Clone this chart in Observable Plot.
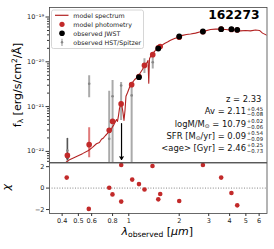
<!DOCTYPE html>
<html><head><meta charset="utf-8">
<script src="https://cdn.jsdelivr.net/npm/d3@7"></script>
<script src="https://cdn.jsdelivr.net/npm/@observablehq/plot@0.6"></script>
<style>
body{margin:0;background:#fff;font-family:"DejaVu Sans",sans-serif;}
#chart{position:relative;width:274px;height:249px;}
#chart svg{display:block;}
</style></head><body><div id="chart"></div>
<script>
// ---- model spectrum (wavelength in micron, log10 f_lambda) ----
const specLam = [0.413,0.4365,0.4805,0.529,0.5745,0.607,0.641,0.668,0.687,0.706,0.726,0.746,0.762,0.777,0.794,0.810,0.827,0.8445,0.856,0.868,0.880,0.898,0.911,0.923,0.936,0.949,0.962,0.982,1.003,1.024,1.052,1.082,1.112,1.143,1.175,1.207,1.232,1.258,1.284,1.302,1.316,1.329,1.357,1.385,1.424,1.464,1.504,1.567,1.634,1.702,1.774,1.875,1.980,2.093,2.211,2.336,2.502,2.680,2.871,3.075,3.293,3.528,3.779,4.048,4.335,4.644,4.974,5.329,5.707,6.030,6.284,6.685,7.0];
const specLogF = [-22.27,-22.20,-22.125,-22.05,-21.98,-21.91,-21.83,-21.80,-21.73,-21.70,-21.645,-21.60,-21.53,-21.57,-21.47,-21.42,-21.355,-21.29,-21.33,-21.20,-21.04,-20.93,-21.00,-21.13,-21.31,-21.09,-20.77,-20.69,-20.60,-20.51,-20.46,-20.40,-20.36,-20.31,-20.24,-20.17,-20.10,-20.06,-20.02,-19.97,-20.48,-19.93,-19.86,-19.81,-19.77,-19.71,-19.67,-19.64,-19.59,-19.56,-19.52,-19.48,-19.45,-19.41,-19.39,-19.38,-19.36,-19.33,-19.31,-19.28,-19.27,-19.27,-19.28,-19.29,-19.29,-19.31,-19.30,-19.31,-19.29,-19.30,-19.36,-19.41,-19.46];

// ---- observed JWST photometry ----
const jwstLam = [1.15,1.50,2.00,2.77,3.56,4.10,4.44];
const jwstLogF = [-20.344,-19.703,-19.435,-19.324,-19.272,-19.272,-19.286];
const jwstChi = [0.37,-1.05,-1.20,2.15,0.98,-0.46,-1.61];

// ---- observed HST/Spitzer photometry (log10 flux, lower, upper) ----
const hstLam = [0.43,0.58,0.764,0.80,0.90,1.04,1.24,1.39,1.54];
const hstLogF = [-21.98,-20.49,-21.72,-20.77,-20.53,-20.75,-20.08,-20.01,-19.66];
const hstLogLo = [-22.30,-20.80,-22.40,-22.40,-21.31,-22.40,-20.26,-20.16,-19.70];
const hstLogHi = [-21.71,-20.31,-20.66,-20.42,-20.46,-20.48,-19.93,-19.86,-19.62];
const hstChiLam = [0.426,0.577,0.764,0.799,0.901,0.901,1.048,1.241,1.385,1.54];
const hstChi = [0.98,-1.94,0.03,-0.59,2.15,-1.26,0.79,-0.13,2.06,-0.55];

// ---- upper limits (arrows) ----
const ulLam = [0.43,0.905];
const ulLogTop = [-21.71,-21.38];
const ulLogEnd = [-22.18,-22.18];
const ulColor = ["#555","#000"];

// ---- model photometry ----
const modelLam = [0.43,0.58,0.764,0.80,0.90,1.04,1.24,1.39,1.54,1.15,1.50,2.00,2.77,3.56,4.10,4.44];
const modelLogF = [-22.09,-21.85,-21.53,-21.33,-20.94,-20.51,-20.08,-19.84,-19.66,-20.33,-19.69,-19.45,-19.33,-19.27,-19.28,-19.29];
const modelErrLam = [0.58];
const modelErrLo = [-22.14];
const modelErrHi = [-21.47];

// ---- ticks ----
const yMajor = [1e-22,1e-21,1e-20,1e-19];
const yMajorLabels = ["10\u207B\u00B2\u00B2","10\u207B\u00B2\u00B9","10\u207B\u00B2\u2070","10\u207B\u00B9\u2079"];
const yMinor = [6e-23,7e-23,8e-23,9e-23,2e-22,3e-22,4e-22,5e-22,6e-22,7e-22,8e-22,9e-22,2e-21,3e-21,4e-21,5e-21,6e-21,7e-21,8e-21,9e-21,2e-20,3e-20,4e-20,5e-20,6e-20,7e-20,8e-20,9e-20];
const xTicks = [0.4,0.5,0.6,0.8,1,2,3,4,5,6];
const xTickLabels = ["0.4","0.5","0.6","0.8","1","2","3","4","5","6"];
const chiTicks = [-2,0,2];
const chiTickLabels = ["\u22122","0","2"];

const RED = "#c22a2a", LINE = "#b22222";
const pow = v => Math.pow(10, v);
const spec = specLam.map((l,i)=>({lam:l, f:pow(specLogF[i])}));
const jwst = jwstLam.map((l,i)=>({lam:l, f:pow(jwstLogF[i])}));
const hst = hstLam.map((l,i)=>({lam:l, f:pow(hstLogF[i]), lo:pow(hstLogLo[i]), hi:pow(hstLogHi[i])}));
const ul = ulLam.map((l,i)=>({lam:l, top:pow(ulLogTop[i]), end:pow(ulLogEnd[i]), c:ulColor[i]}));
const model = modelLam.map((l,i)=>({lam:l, f:pow(modelLogF[i])}));
const modelErr = modelErrLam.map((l,i)=>({lam:l, lo:pow(modelErrLo[i]), hi:pow(modelErrHi[i])}));
const chiAll = hstChiLam.map((l,i)=>({lam:l, chi:hstChi[i]})).concat(jwstLam.map((l,i)=>({lam:l, chi:jwstChi[i]})));

const xDomain = [0.3362, 6.685];
const font = {fontFamily:"DejaVu Sans", fontSize:"6px", color:"#222", background:"white", overflow:"visible"};

const main = Plot.plot({
  width:274, height:162, marginLeft:49, marginRight:7.5, marginTop:7, marginBottom:0,
  style:font,
  x:{type:"log", domain:xDomain, axis:null},
  y:{type:"log", domain:[5.65e-23,1.63e-19], axis:null},
  marks:[
    Plot.ruleX(hst, {x:"lam", y1:"lo", y2:"hi", stroke:"#aaa", strokeWidth:2, clip:true}),
    Plot.ruleX(modelErr, {x:"lam", y1:"lo", y2:"hi", stroke:"#e07a7a", strokeWidth:2, clip:true}),
    Plot.arrow(ul, {x:"lam", y1:"top", y2:"end", stroke:"c", strokeWidth:1.2, headLength:4, clip:true}),
    Plot.dot(hst, {x:"lam", y:"f", r:1.3, fill:"#888", clip:true}),
    Plot.line(spec, {x:"lam", y:"f", stroke:LINE, strokeWidth:1.1, clip:true}),
    Plot.dot(model, {x:"lam", y:"f", r:2.8, fill:RED, clip:true}),
    Plot.dot(jwst, {x:"lam", y:"f", r:2.9, fill:"#000", clip:true}),
    Plot.axisY({ticks:yMinor, tickFormat:()=>"", tickSize:2, label:null, stroke:"#333"}),
    Plot.axisY({ticks:yMajor, tickFormat:d=>yMajorLabels[yMajor.indexOf(d)], tickSize:3.5, tickPadding:2, fontSize:6.5, label:null, stroke:"#333"}),
    Plot.frame({stroke:"#444", strokeWidth:0.8})
  ]
});

const resid = Plot.plot({
  width:274, height:87, marginLeft:49, marginRight:7.5, marginTop:0.5, marginBottom:36,
  style:font,
  x:{type:"log", domain:xDomain, axis:null},
  y:{domain:[-2.37,2.34], axis:null},
  marks:[
    Plot.ruleY([0], {stroke:"#666", strokeWidth:0.8, strokeDasharray:"1,1.6"}),
    Plot.dot(chiAll, {x:"lam", y:"chi", r:2.3, fill:RED}),
    Plot.axisY({ticks:chiTicks, tickFormat:d=>chiTickLabels[chiTicks.indexOf(d)], tickSize:3, tickPadding:2, fontSize:6.5, label:null, stroke:"#333"}),
    Plot.axisX({ticks:xTicks, tickFormat:d=>xTickLabels[xTicks.indexOf(d)], tickSize:3, tickPadding:2, fontSize:6.5, label:null, stroke:"#333"}),
    Plot.frame({stroke:"#444", strokeWidth:0.8})
  ]
});

const host = document.getElementById("chart");
host.appendChild(main);
host.appendChild(resid);

// ---- annotations ----
const sm = d3.select(main), sr = d3.select(resid);
const F = "DejaVu Sans";

// legend
const lg = sm.append("g").attr("font-family",F).attr("font-size","6.3px").attr("fill","#222").attr("text-anchor","start");
lg.append("rect").attr("x",51.5).attr("y",10).attr("width",92).attr("height",38.5).attr("rx",2)
  .attr("fill","white").attr("fill-opacity",0.85).attr("stroke","#ccc").attr("stroke-width",0.8);
const rows = [15.3,24.3,33.3,42.3];
lg.append("line").attr("x1",55).attr("x2",68.5).attr("y1",rows[0]).attr("y2",rows[0]).attr("stroke",LINE).attr("stroke-width",1.2);
lg.append("circle").attr("cx",62).attr("cy",rows[1]).attr("r",2.6).attr("fill",RED);
lg.append("circle").attr("cx",62).attr("cy",rows[2]).attr("r",2.8).attr("fill","#000");
lg.append("line").attr("x1",62).attr("x2",62).attr("y1",rows[3]-3.6).attr("y2",rows[3]+3.6).attr("stroke","#aaa").attr("stroke-width",1.3);
lg.append("circle").attr("cx",62).attr("cy",rows[3]).attr("r",1.2).attr("fill","#888");
["model spectrum","model photometry","observed JWST","observed HST/Spitzer"].forEach((t,i)=>{
  lg.append("text").attr("x",73.3).attr("y",rows[i]+2.2).attr("text-anchor","start").text(t);
});

// title
sm.append("text").attr("x",259.5).attr("y",19.4).attr("text-anchor","end")
  .attr("font-family",F).attr("font-size","12.3px").attr("font-weight","bold").attr("fill","#000").text("162273");

// fit results
const ann = sm.append("g").attr("font-family",F).attr("fill","#111");
ann.append("text").attr("x",261.3).attr("y",101.7).attr("text-anchor","end").attr("font-size","8.4px").text("z = 2.33");
const fitRows = [
  {y:114.4, parts:[["Av = 2.11",0]], up:"+0.45", dn:"\u22120.08"},
  {y:126.6, parts:[["logM/M",0],["\u2299",1],[" = 10.79",0]], up:"+0.02", dn:"\u22120.06"},
  {y:138.6, parts:[["SFR [M",0],["\u2299",1],["/yr] = 0.09",0]], up:"+0.54", dn:"\u22120.09"},
  {y:150.6, parts:[["<age> [Gyr] = 2.46",0]], up:"+0.25", dn:"\u22120.73"}
];
fitRows.forEach(r=>{
  const t = ann.append("text").attr("x",246).attr("y",r.y).attr("text-anchor","end").attr("font-size","8.4px");
  let shifted = false;
  r.parts.forEach(([s,sub])=>{
    const ts = t.append("tspan").text(s);
    if (sub) { ts.attr("font-size","5.8px").attr("dy",1.8); shifted = true; }
    else if (shifted) { ts.attr("dy",-1.8); shifted = false; }
  });
  ann.append("text").attr("x",246.8).attr("y",r.y-3.6).attr("text-anchor","start").attr("font-size","5.3px").text(r.up);
  ann.append("text").attr("x",246.8).attr("y",r.y+2).attr("text-anchor","start").attr("font-size","5.3px").text(r.dn);
});

// y label
const yl = sm.append("text").attr("transform","translate(20.5,85) rotate(-90)").attr("text-anchor","middle")
  .attr("font-family",F).attr("font-size","11px").attr("fill","#000");
yl.append("tspan").text("f");
yl.append("tspan").attr("font-size","7.5px").attr("dy",2.5).text("\u03BB");
yl.append("tspan").attr("dy",-2.5).text(" [erg/s/cm");
yl.append("tspan").attr("font-size","7.5px").attr("dy",-4).text("2");
yl.append("tspan").attr("dy",4).text("/\u00C5]");

// chi label
sr.append("text").attr("transform","translate(10,25.3) rotate(-90)").attr("text-anchor","middle")
  .attr("font-family",F).attr("font-size","11px").attr("font-style","italic").attr("fill","#000").text("\u03C7");

// x label
const xl = sr.append("text").attr("x",121.5).attr("y",72.5).attr("text-anchor","start")
  .attr("font-family",F).attr("font-size","11px").attr("fill","#000");
xl.append("tspan").attr("font-style","italic").text("\u03BB");
xl.append("tspan").attr("font-size","7.6px").attr("dy",2.6).text("observed");
xl.append("tspan").attr("dy",-2.6).text(" [");
xl.append("tspan").attr("font-style","italic").text("\u03BCm");
xl.append("tspan").text("]");
</script></body></html>
